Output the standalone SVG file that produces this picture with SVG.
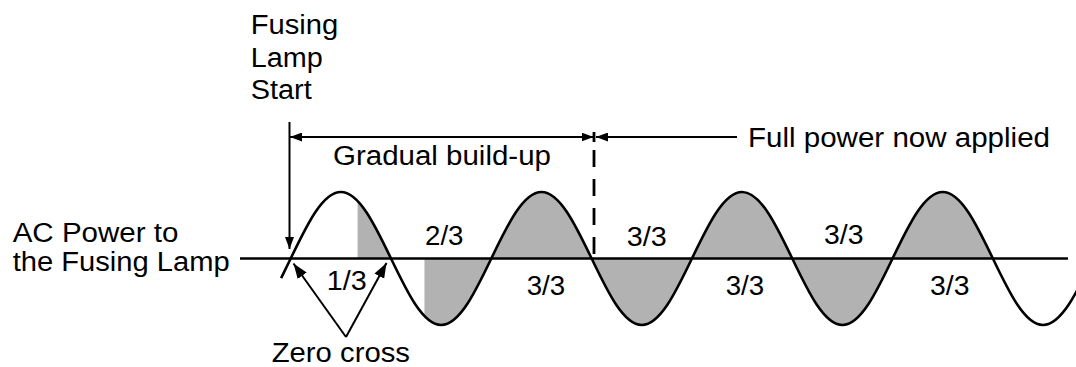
<svg xmlns="http://www.w3.org/2000/svg" width="1076" height="367" viewBox="0 0 1076 367">
<style>
  text { font-family: "Liberation Sans", Arial, sans-serif; font-size: 27px; fill: #000; }
  .ln { stroke: #000; stroke-width: 2; fill: none; }
  .wave { stroke: #000; stroke-width: 2.6; fill: none; vector-effect: non-scaling-stroke; }
  .shade { fill: #b2b2b2; stroke: none; }
</style>
<defs>
  <marker id="arr" viewBox="0 0 12 10" refX="12" refY="5" markerWidth="12" markerHeight="9" orient="auto-start-reverse" markerUnits="userSpaceOnUse" preserveAspectRatio="none">
    <path d="M0 0 L12 5 L0 10 Z" fill="#000"/>
  </marker>
  <marker id="arrBig" viewBox="0 0 14 10" refX="14" refY="5" markerWidth="15" markerHeight="11" orient="auto" markerUnits="userSpaceOnUse" preserveAspectRatio="none">
    <path d="M0 0 L14 5 L0 10 Z" fill="#000"/>
  </marker>
  <clipPath id="shadeClip" clipPathUnits="userSpaceOnUse">
    <rect x="2.0944" y="-2" width="1.0472" height="4"/>
    <rect x="4.1888" y="-2" width="17.8023" height="4"/>
  </clipPath>
</defs>

<g id="waveform" transform="translate(290.7 258.5) scale(31.93 -66.5)">
  <path class="shade" clip-path="url(#shadeClip)" d="M0 0 C0.5123 0.5123 1.0023 1 1.5708 1 S2.6293 0.5123 3.1416 0 S4.1439 -1 4.7124 -1 S5.7709 -0.5123 6.2832 0 S7.2855 1 7.8540 1 S8.9125 0.5123 9.4248 0 S10.4271 -1 10.9956 -1 S12.0541 -0.5123 12.5664 0 S13.5687 1 14.1372 1 S15.1957 0.5123 15.7080 0 S16.7103 -1 17.2788 -1 S18.3373 -0.5123 18.8496 0 S19.8519 1 20.4204 1 S21.4789 0.5123 21.9911 0 Z"/>
</g>

<g id="axis">
  <line x1="240" y1="258.5" x2="1068" y2="258.5" stroke="#000" stroke-width="2.6"/>
</g>

<g id="wave-line" transform="translate(290.7 258.5) scale(31.93 -66.5)">
  <path class="wave" d="M-0.3 -0.2955 C-0.2 -0.1987 -0.1 -0.0998 0 0 C0.5123 0.5123 1.0023 1 1.5708 1 S2.6293 0.5123 3.1416 0 S4.1439 -1 4.7124 -1 S5.7709 -0.5123 6.2832 0 S7.2855 1 7.8540 1 S8.9125 0.5123 9.4248 0 S10.4271 -1 10.9956 -1 S12.0541 -0.5123 12.5664 0 S13.5687 1 14.1372 1 S15.1957 0.5123 15.7080 0 S16.7103 -1 17.2788 -1 S18.3373 -0.5123 18.8496 0 S19.8519 1 20.4204 1 S21.4789 0.5123 21.9911 0 S22.9935 -1 23.5619 -1 S24.6205 -0.5123 25.1327 0"/>
</g>

<g id="connectors">
  <line class="ln" x1="289.5" y1="122" x2="289.5" y2="249" marker-end="url(#arr)"/>
  <line class="ln" x1="290" y1="137" x2="593.5" y2="137" marker-start="url(#arr)" marker-end="url(#arr)"/>
  <line class="ln" x1="596" y1="137" x2="737" y2="137" marker-start="url(#arr)"/>
  <line x1="594" y1="132" x2="594" y2="142" stroke="#000" stroke-width="2.8"/>
  <line x1="594" y1="150" x2="594" y2="258" stroke="#000" stroke-width="2.8" stroke-dasharray="17 12"/>
  <line class="ln" x1="346" y1="337" x2="293.5" y2="263.5" marker-end="url(#arrBig)"/>
  <line class="ln" x1="346" y1="337" x2="386.5" y2="263" marker-end="url(#arrBig)"/>
</g>

<g id="label-start">
  <text x="250.7" y="34" textLength="87.6" lengthAdjust="spacingAndGlyphs">Fusing</text>
  <text x="250.7" y="66.5" textLength="72" lengthAdjust="spacingAndGlyphs">Lamp</text>
  <text x="250.7" y="99" textLength="61" lengthAdjust="spacingAndGlyphs">Start</text>
</g>
<g id="label-gradual">
  <text x="333" y="165" textLength="218" lengthAdjust="spacingAndGlyphs">Gradual build-up</text>
</g>
<g id="label-full">
  <text x="748" y="147" textLength="302" lengthAdjust="spacingAndGlyphs">Full power now applied</text>
</g>
<g id="label-ac">
  <text x="12.7" y="242" textLength="165.7" lengthAdjust="spacingAndGlyphs">AC Power to</text>
  <text x="12.7" y="271" textLength="217" lengthAdjust="spacingAndGlyphs">the Fusing Lamp</text>
</g>
<g id="label-fractions">
  <text x="326.7" y="290" textLength="40" lengthAdjust="spacingAndGlyphs">1/3</text>
  <text x="425" y="245" textLength="38.5" lengthAdjust="spacingAndGlyphs">2/3</text>
  <text x="526.7" y="295" textLength="38.5" lengthAdjust="spacingAndGlyphs">3/3</text>
  <text x="626.7" y="246" textLength="40" lengthAdjust="spacingAndGlyphs">3/3</text>
  <text x="725.7" y="295" textLength="38.5" lengthAdjust="spacingAndGlyphs">3/3</text>
  <text x="824" y="244" textLength="39.5" lengthAdjust="spacingAndGlyphs">3/3</text>
  <text x="930" y="295" textLength="39.5" lengthAdjust="spacingAndGlyphs">3/3</text>
</g>
<g id="label-zero">
  <text x="271.7" y="361.5" textLength="138.3" lengthAdjust="spacingAndGlyphs">Zero cross</text>
</g>
</svg>
